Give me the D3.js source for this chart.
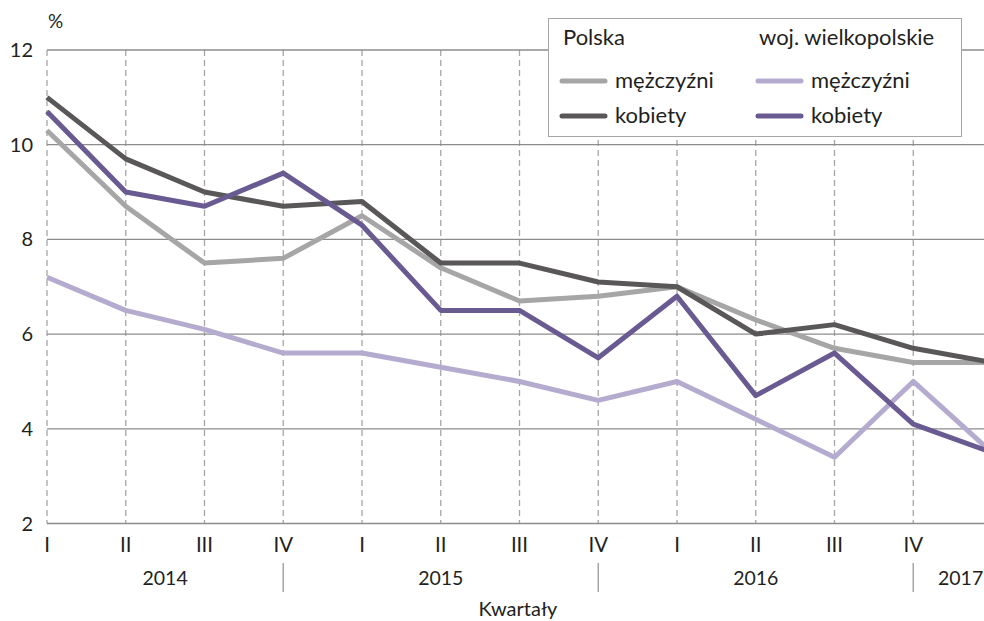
<!DOCTYPE html>
<html>
<head>
<meta charset="utf-8">
<script src="https://cdn.jsdelivr.net/npm/d3@7"></script>
<style>
  body { margin: 0; background: #fff; }
  svg text { font-family: Lato, "Open Sans", sans-serif; fill: #231f20; }
</style>
</head>
<body>
<svg id="chart" width="984" height="621"></svg>
<script>
// quarters I 2014 .. I 2017
const quarters = ["I", "II", "III", "IV", "I", "II", "III", "IV", "I", "II", "III", "IV", "I"];
const years = [
  { label: "2014", from: 0, to: 3 },
  { label: "2015", from: 3, to: 7 },
  { label: "2016", from: 7, to: 11 },
  { label: "2017", from: 11, to: 12.2 }
];
const yTicks = [2, 4, 6, 8, 10, 12];

const plMen   = [10.3, 8.7, 7.5, 7.6, 8.5, 7.4, 6.7, 6.8, 7.0, 6.3, 5.7, 5.4, 5.4];
const plWomen = [11.0, 9.7, 9.0, 8.7, 8.8, 7.5, 7.5, 7.1, 7.0, 6.0, 6.2, 5.7, 5.4];
const wpMen   = [7.2, 6.5, 6.1, 5.6, 5.6, 5.3, 5.0, 4.6, 5.0, 4.2, 3.4, 5.0, 3.5];
const wpWomen = [10.7, 9.0, 8.7, 9.4, 8.3, 6.5, 6.5, 5.5, 6.8, 4.7, 5.6, 4.1, 3.5];

const series = [
  { name: "mężczyźni", group: "Polska", values: plMen, color: "#a6a6a6" },
  { name: "kobiety", group: "Polska", values: plWomen, color: "#5a5758" },
  { name: "mężczyźni", group: "woj. wielkopolskie", values: wpMen, color: "#b5abcf" },
  { name: "kobiety", group: "woj. wielkopolskie", values: wpWomen, color: "#6a5a92" }
];

const svg = d3.select("#chart");
const width = 984, height = 621;

const x = d3.scaleLinear().domain([0, 12]).range([47, 992]);
const y = d3.scaleLinear().domain([2, 12]).range([523.5, 50]);

const grid = svg.append("g");

// vertical dashed lines
grid.selectAll(".vgrid")
  .data(quarters)
  .join("line")
    .attr("class", "vgrid")
    .attr("x1", (d, i) => x(i)).attr("x2", (d, i) => x(i))
    .attr("y1", y(12)).attr("y2", y(2))
    .attr("stroke", "#a6a6a6")
    .attr("stroke-width", 1.3)
    .attr("stroke-dasharray", "6,4");

// horizontal grid
grid.selectAll(".hgrid")
  .data(yTicks)
  .join("line")
    .attr("class", "hgrid")
    .attr("x1", x(0)).attr("x2", width)
    .attr("y1", d => y(d)).attr("y2", d => y(d))
    .attr("stroke", "#8c8c8c")
    .attr("stroke-width", 1.3);

// y labels
svg.selectAll(".ylab")
  .data(yTicks)
  .join("text")
    .attr("class", "ylab")
    .attr("x", 33)
    .attr("y", d => y(d) + 7)
    .attr("text-anchor", "end")
    .attr("font-size", 20)
    .text(d => d);

svg.append("text")
  .attr("x", 48).attr("y", 28)
  .attr("font-size", 19)
  .text("%");

// lines
const line = d3.line()
  .x((d, i) => x(i))
  .y(d => y(d))
  .curve(d3.curveLinear);

svg.append("g").selectAll("path")
  .data(series)
  .join("path")
    .attr("d", d => line(d.values))
    .attr("fill", "none")
    .attr("stroke", d => d.color)
    .attr("stroke-width", 5)
    .attr("stroke-linejoin", "round");

// x axis: quarters (the last one falls past the right edge)
svg.selectAll(".qlab")
  .data(quarters.filter((d, i) => x(i) < width))
  .join("text")
    .attr("class", "qlab")
    .attr("x", (d, i) => x(i))
    .attr("y", 552)
    .attr("text-anchor", "middle")
    .attr("font-size", 20.5)
    .text(d => d);

// year separators at IV
svg.selectAll(".ysep")
  .data(years.slice(0, 3))
  .join("line")
    .attr("class", "ysep")
    .attr("x1", d => x(d.to)).attr("x2", d => x(d.to))
    .attr("y1", 563).attr("y2", 592)
    .attr("stroke", "#a6a6a6")
    .attr("stroke-width", 1.5);

svg.selectAll(".yrlab")
  .data(years)
  .join("text")
    .attr("class", "yrlab")
    .attr("x", d => (x(d.from) + Math.min(x(d.to), width)) / 2 + (d.label === "2017" ? 12 : 0))
    .attr("y", 585)
    .attr("text-anchor", "middle")
    .attr("font-size", 19.5)
    .text(d => d.label);

svg.append("text")
  .attr("x", 518).attr("y", 616)
  .attr("text-anchor", "middle")
  .attr("font-size", 20)
  .text("Kwartały");

// legend
const legend = svg.append("g").attr("transform", "translate(548,18)");
legend.append("rect")
  .attr("x", 0.5).attr("y", 0.5)
  .attr("width", 413).attr("height", 118)
  .attr("fill", "#fff")
  .attr("stroke", "#a6a6a6")
  .attr("stroke-width", 1);

const groups = ["Polska", "woj. wielkopolskie"];
const colX = [14, 210];
legend.selectAll(".lgTitle")
  .data(groups)
  .join("text")
    .attr("class", "lgTitle")
    .attr("x", (d, i) => colX[i] + 1)
    .attr("y", 27)
    .attr("font-size", 22)
    .text(d => d);

const items = legend.selectAll(".lgItem")
  .data(series)
  .join("g")
    .attr("class", "lgItem")
    .attr("transform", (d, i) => `translate(${colX[Math.floor(i / 2)]},${i % 2 === 0 ? 63 : 98})`);
items.append("line")
  .attr("x1", 0).attr("x2", 43)
  .attr("stroke", d => d.color)
  .attr("stroke-width", 5)
  .attr("stroke-linecap", "round");
items.append("text")
  .attr("x", 53).attr("y", 7)
  .attr("font-size", 22)
  .text(d => d.name);
</script>
</body>
</html>
